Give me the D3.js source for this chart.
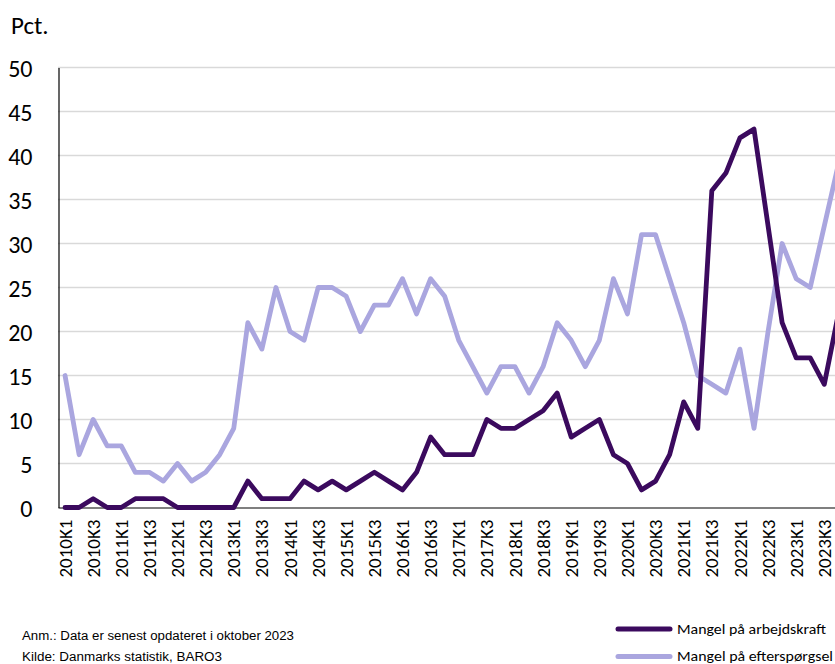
<!DOCTYPE html>
<html>
<head>
<meta charset="utf-8">
<script src="https://cdn.jsdelivr.net/npm/d3@7"></script>
<style>
  html, body { margin: 0; padding: 0; background: #fff; overflow: hidden; }
  svg { display: block; }
</style>
</head>
<body>
<svg id="chart" width="835" height="664"></svg>
<script>
// ---- Data ----
const categories = [
  "2010K1","2010K2","2010K3","2010K4","2011K1","2011K2","2011K3","2011K4",
  "2012K1","2012K2","2012K3","2012K4","2013K1","2013K2","2013K3","2013K4",
  "2014K1","2014K2","2014K3","2014K4","2015K1","2015K2","2015K3","2015K4",
  "2016K1","2016K2","2016K3","2016K4","2017K1","2017K2","2017K3","2017K4",
  "2018K1","2018K2","2018K3","2018K4","2019K1","2019K2","2019K3","2019K4",
  "2020K1","2020K2","2020K3","2020K4","2021K1","2021K2","2021K3","2021K4",
  "2022K1","2022K2","2022K3","2022K4","2023K1","2023K2","2023K3","2023K4"
];
const tickLabels = [
  "2010K1","2010K3","2011K1","2011K3","2012K1","2012K3","2013K1","2013K3",
  "2014K1","2014K3","2015K1","2015K3","2016K1","2016K3","2017K1","2017K3",
  "2018K1","2018K3","2019K1","2019K3","2020K1","2020K3","2021K1","2021K3",
  "2022K1","2022K3","2023K1","2023K3"
];
const yTicks = [0, 5, 10, 15, 20, 25, 30, 35, 40, 45, 50];

const arbejdskraft = [
  0,0,1,0, 0,1,1,1, 0,0,0,0, 0,3,1,1,
  1,3,2,3, 2,3,4,3, 2,4,8,6, 6,6,10,9,
  9,10,11,13, 8,9,10,6, 5,2,3,6, 12,9,36,38,
  42,43,32,21, 17,17,14,22
];
const efterspoergsel = [
  15,6,10,7, 7,4,4,3, 5,3,4,6, 9,21,18,25,
  20,19,25,25, 24,20,23,23, 26,22,26,24, 19,16,13,16,
  16,13,16,21, 19,16,19,26, 22,31,31,26, 21,15,14,13,
  18,9,20,30, 26,25,32,39
];

const seriesNames = ["Mangel på arbejdskraft", "Mangel på efterspørgsel"];
const seriesColors = ["#3b0a5e", "#aaa6df"];

// ---- Layout ----
const svg = d3.select("#chart");
const plotLeft = 58, plotRight = 845.4, plotTop = 67.5, plotBottom = 507.5;

const x = d3.scalePoint().domain(categories).range([plotLeft, plotRight]).padding(0.5);
const y = d3.scaleLinear().domain([0, 50]).range([plotBottom, plotTop]);

const calibri = "Carlito, Lato, 'Open Sans', sans-serif";
const narrow = "'Liberation Sans Narrow', 'Arial Narrow', 'Liberation Sans', Arial, sans-serif";

// gridlines
svg.append("g")
  .selectAll("line")
  .data(yTicks.filter(d => d > 0))
  .join("line")
  .attr("x1", plotLeft).attr("x2", plotRight)
  .attr("y1", d => y(d)).attr("y2", d => y(d))
  .attr("stroke", "#d9d9d9").attr("stroke-width", 1.5);

// y axis
const gy = svg.append("g")
  .attr("transform", `translate(${plotLeft + 0.5},0)`)
  .call(d3.axisLeft(y).tickValues(yTicks).tickSize(0).tickPadding(26).tickFormat(d3.format("d")));
gy.select(".domain").attr("stroke", "#000").attr("stroke-width", 1.2);
gy.selectAll("text")
  .attr("font-family", calibri).attr("font-size", 24).attr("fill", "#000")
  .attr("dy", "0.36em");

// x axis
const gx = svg.append("g")
  .attr("transform", `translate(0,${plotBottom})`)
  .call(d3.axisBottom(x).tickValues(tickLabels).tickSize(0));
gx.select(".domain").attr("stroke", "#000").attr("stroke-width", 1.2);
gx.selectAll("text")
  .attr("font-family", calibri).attr("font-size", 19).attr("fill", "#000")
  .attr("text-anchor", "end")
  .attr("transform", "rotate(-90)")
  .attr("x", -12).attr("y", 0).attr("dy", "0.32em");

// lines
const line = d3.line()
  .x((d, i) => x(categories[i]))
  .y(d => y(d));

[[efterspoergsel, 1], [arbejdskraft, 0]].forEach(([vals, ci]) => {
  svg.append("path")
    .datum(vals)
    .attr("d", line)
    .attr("fill", "none")
    .attr("stroke", seriesColors[ci])
    .attr("stroke-width", 4.8)
    .attr("stroke-linejoin", "round")
    .attr("stroke-linecap", "round");
});

// "Pct." label
svg.append("text")
  .attr("x", 11).attr("y", 34)
  .attr("font-family", calibri).attr("font-size", 25).attr("fill", "#000")
  .text("Pct.");

// notes
const notes = ["Anm.: Data er senest opdateret i oktober 2023", "Kilde: Danmarks statistik, BARO3"];
const noteLens = [272, 200];
svg.append("g").selectAll("text")
  .data(notes)
  .join("text")
  .attr("x", 22).attr("y", (d, i) => 640 + i * 21)
  .attr("font-family", narrow).attr("font-size", 12.5).attr("fill", "#000")
  .attr("textLength", (d, i) => noteLens[i]).attr("lengthAdjust", "spacingAndGlyphs")
  .text(d => d);

// legend
const leg = svg.append("g");
seriesNames.forEach((name, i) => {
  const yy = 629 + i * 27.5;
  leg.append("line")
    .attr("x1", 618).attr("x2", 670)
    .attr("y1", yy).attr("y2", yy)
    .attr("stroke", seriesColors[i]).attr("stroke-width", 5)
    .attr("stroke-linecap", "round");
  leg.append("text")
    .attr("x", 677).attr("y", yy + 4.5)
    .attr("font-family", calibri).attr("font-size", 14.5).attr("fill", "#000")
    .attr("textLength", i === 0 ? 149 : 156).attr("lengthAdjust", "spacingAndGlyphs")
    .text(name);
});
</script>
</body>
</html>
